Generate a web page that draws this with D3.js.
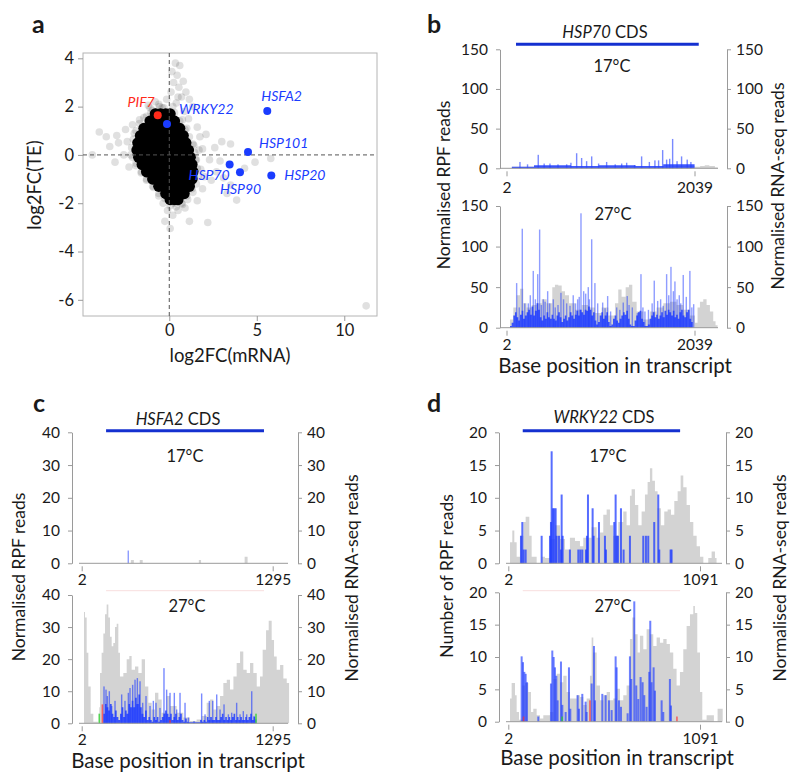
<!DOCTYPE html>
<html><head><meta charset="utf-8">
<script src="https://cdn.jsdelivr.net/npm/d3@7"></script>
<style>body{margin:0;background:#fff} text{font-family:Lato,'Open Sans',sans-serif;fill:#1a1a1a}</style>
</head><body><script>
// ---------------- DATA ----------------
// Panel a: scatter log2FC(mRNA) vs log2FC(TE)
const coreRowY = [1.7,1.4,1.1,0.8,0.5,0.2,-0.1,-0.4,-0.7,-1.0,-1.3,-1.6,-1.85];
const coreRowX = [
  [-0.8,-0.5,-0.2,0.05],
  [-1.1,-0.8,-0.5,-0.2,0.1,0.3],
  [-1.45,-1.15,-0.85,-0.55,-0.25,0.05,0.35,0.6],
  [-1.65,-1.35,-1.05,-0.75,-0.45,-0.15,0.15,0.45,0.8],
  [-1.8,-1.5,-1.2,-0.9,-0.6,-0.3,0,0.3,0.6,0.95],
  [-1.85,-1.55,-1.25,-0.95,-0.65,-0.35,-0.05,0.25,0.55,0.85,1.1],
  [-1.75,-1.45,-1.15,-0.85,-0.55,-0.25,0.05,0.35,0.65,0.95,1.2],
  [-1.55,-1.25,-0.95,-0.65,-0.35,-0.05,0.25,0.55,0.85,1.1,1.3],
  [-1.3,-1.0,-0.7,-0.4,-0.1,0.2,0.5,0.8,1.1,1.35],
  [-0.95,-0.65,-0.35,-0.05,0.25,0.55,0.85,1.1,1.3],
  [-0.6,-0.3,0,0.3,0.6,0.9,1.15],
  [-0.2,0.1,0.4,0.65,0.85],
  [0.05,0.3,0.5]
];
const haloX = [0.35,0.6,0.15,0.45,0.8,0.25,0.55,0.95,0.1,0.7,1.15,-0.15,0.4,1.35,-0.55,-0.95,-1.3,-1.7,-2.1,-2.5,-3.0,-3.6,-4.0,-4.4,-3.4,-2.9,-2.4,-2.0,-2.2,-1.9,-1.6,-1.3,-0.9,-0.6,-0.35,-0.1,0.2,0.5,-0.25,0.05,0.9,1.15,1.6,2.2,1.9,2.4,2.7,3.1,3.5,3.85,3.3,2.3,1.9,1.75,1.6,2.1,2.6,3.0,3.5,4.9,5.8,4.3,1.8,1.1,0.85,2.0,-1.2,-0.8,-2.6,-1.5,1.4,2.9,0.7,-0.4,1.3,11.25,-3.1,-2.3,-1.0,0.75,1.0,-1.9,-1.4,-0.4,1.0,0.3,1.5,1.7,-0.7,0.5,
  -1.1,-0.3,0.3,0.6,0.9,1.15,1.35,1.45,1.55,1.6,1.65,1.55,1.35,1.05,0.75,0.4,0.05,-0.25,-0.6,-0.95,-1.3,-1.6,-1.9,-2.1,-2.15,-2.05,-1.9,-1.7,-1.45,-1.05,0.2,-0.6];
const haloY = [3.8,3.7,3.45,3.3,3.05,3.0,2.8,2.6,2.6,2.4,2.3,2.3,2.15,2.0,2.0,1.85,1.6,1.45,1.25,1.05,0.8,0.75,0.95,0.0,0.35,0.5,0.55,0.9,0.0,-0.35,-0.7,-1.0,-1.35,-1.7,-2.0,-2.3,-2.5,-2.3,-2.75,-3.05,-2.2,-2.75,-1.9,-2.8,-1.4,-1.05,-0.7,-0.95,-1.25,-1.87,-1.6,-0.2,0.25,0.75,1.15,0.85,0.3,0.55,0.45,-0.3,-0.15,-0.55,-0.6,1.5,1.8,-0.9,2.05,2.2,0.0,0.95,0.4,-0.25,-2.0,1.95,-1.4,-6.25,-0.3,-0.5,1.5,1.45,1.1,0.2,-0.3,-1.5,-1.7,-2.0,-0.2,0.2,1.8,2.4,
  1.95,1.95,1.75,1.4,1.05,0.75,0.45,0.1,-0.2,-0.55,-0.9,-1.2,-1.55,-1.85,-2.05,-2.15,-2.1,-1.8,-1.6,-1.3,-1.05,-0.75,-0.45,-0.1,0.3,0.65,1.0,1.3,1.55,1.75,2.0,2.1];
const geneNames = ["PIF7","WRKY22","HSFA2","HSP101","HSP70","HSP90","HSP20"];
const geneX = [-0.66,-0.13,5.6,4.5,3.45,4.04,5.83];
const geneY = [1.64,1.28,1.82,0.12,-0.40,-0.72,-0.85];
const geneGroup = ["red","blue","blue","blue","blue","blue","blue"];
const aXTicks = [0,5,10];
const aYTicks = [-6,-4,-2,0,2,4];

// Panel b: HSP70 (transcript, 2..2039)
const bEnd = 2039, bCds = [105, 2085], bTicks = [0,50,100,150];
const bTopGrayPos = [20,60,300,700,1000,1400,1800,2040,2100,2150,2200,2260,2290];
const bTopGrayVal = [0,2,3,2,3,2,3,2,3,4,3,1,0];
const bTopFloorPos = [60,300,700,1000,1400,1700,2040];
const bTopFloorVal = [2,4,3,4,3,5,0];
const bTopBluePos = [148,346,473,654,762,816,925,1087,1304,1466,1610,1694,1737,1802,1899,1960,2000,230,410,560,700,870,1000,1180,1250,1390,1550,1650,1770,1850];
const bTopBlueVal = [8,17,6,5,19,13,15,8,7,15,10,23,11,37,15,11,8,5,6,5,7,9,6,5,6,4,8,10,12,9];
const bBotGrayPos = [22,40,76,112,148,184,220,275,329,383,437,498,527,563,600,636,679,744,816,888,960,1033,1105,1177,1213,1249,1293,1329,1365,1412,1484,1556,1628,1701,1773,1845,1917,1989,2044,2072,2098,2134,2170,2206,2242,2267,2289];
const bBotGrayVal = [0,10,25,40,48,30,25,28,30,35,30,50,53,52,45,40,30,22,28,25,18,25,15,30,47,38,50,53,32,20,10,20,25,30,32,28,22,15,6,25,32,35,28,20,8,3,0];
// dense RPF envelope, bins of 18 nt starting at 40
const bBotFloorStart = 40, bBotFloorBin = 18;
const bBotFloorVal = [2,6,15,19,13,9,16,21,11,15,19,22,16,26,15,21,30,22,13,9,15,11,19,13,11,16,11,9,15,19,13,7,11,15,9,13,19,15,11,16,21,15,22,19,16,22,21,26,22,15,19,9,4,7,15,19,11,15,19,7,2,4,11,15,9,6,11,15,19,16,21,11,4,2,2,9,15,19,21,11,7,2,2,4,11,15,19,13,16,11,15,19,13,21,16,22,19,15,21,13,16,11,19,22,15,13,19,22,11,7,0];
const bBotBluePos = [112,173,238,292,340,361,401,448,509,592,654,725,773,809,838,888,925,960,1044,1098,1196,1267,1310,1365,1459,1502,1603,1672,1737,1784,1827,1874,1917,1989,2030,
  140,200,260,315,380,420,470,530,560,620,690,750,790,860,900,990,1070,1130,1230,1330,1420,1480,1540,1580,1640,1700,1760,1810,1850,1890,1950,2010];
const bBotBlueVal = [55,122,30,70,66,121,35,45,35,43,30,40,35,141,45,50,109,55,31,39,25,31,39,25,66,20,58,35,66,75,57,40,65,70,29,
  25,30,40,35,28,32,30,25,28,35,27,30,38,42,35,30,24,20,22,28,18,25,22,30,33,27,40,45,35,30,38,25];

// Panel c: HSFA2 (2..1295)
const cEnd = 1295, cCds = [167, 1236], cTicks = [0,10,20,30,40];
const cTopGrayPos = [330,335,350,355,390,395,410,415,790,795,805,810,1100,1105,1120,1125];
const cTopGrayVal = [0,1,1,0,0,1,1,0,0,1,1,0,0,2,2,0];
const cTopBluePos = [317];
const cTopBlueVal = [3.9];
const cBotGrayPos = [-9.5,17.6,24.4,35.7,47,62.7,80.8,114.6,121.4,126,137,148.5,159.8,171,182.4,193.6,205,216,227.5,238.8,250,261,284,306.5,324.5,340,363,385.5,408,430.6,453,475.8,498.4,521,543.5,577,600,645,690,735,780,814,848,871,893,916,938.5,961,984,1006,1029,1051,1074,1096,1119,1141.6,1164,1187,1209,1227,1250,1268,1288,1304,1322,1345,1367,1390,1406];
const cBotGrayVal = [0,34.7,33,22,11.5,3,0.5,0,5,15.7,22,28,34,37,33,27,24,25,30,31,22,14.6,15.7,20,21,16.7,17.7,15.7,20,11.5,6.4,4.3,9.5,7.4,3.3,8.5,5.4,3.3,1.8,0.7,1.2,2.3,6.4,7.4,4.3,5.4,8.5,12.6,13.6,10.5,14.6,18.8,22.4,16.7,15.7,18.8,15.7,11.5,14.6,22.9,29,32,26,20.8,16.7,18.2,14,12.6,0];
// dense RPF envelope, bins of 11.3 nt starting at 148.5
const cBotFloorStart = 148.5, cBotFloorBin = 11.3;
const cBotFloorVal = [3,6,5,4,6,3,2,4,2,1,3,5,2,4,3,6,5,7,5,8,6,9,5,3,2,4,1,2,1,0.5,2,1,2,0.5,1,2,3,4,3,2,3,1,2,3,1,2,3,1,0.5,1.5,0.5,0.3,0.3,0.3,0.3,0.3,0.3,0.3,1,0.5,1,0.5,2,1,2,1,1,2,1,1,2,3,1,2,1,2,1,2,3,1,2,1,2,1,1,2,1,2,3,1,2,0];
const cBotBluePos = [153,166.6,175.6,189,205,227.5,272.6,295,317.8,329,347,363,378.7,396.8,414.8,437.4,464.5,487,505,532,559,577,600,629,645,667.6,701.5,724,762.4,814,837,866,889,916,938.5,965.5,995,1017.5,1051,1074,1096,1119,1153,1169,1180];
const cBotBlueVal = [11.5,10.5,8.5,10,5.4,7,9,7,9.5,11,12,13.6,14.1,13.1,6.4,8.5,5.4,7,6.4,4.8,17.2,10.5,9.5,9.5,4.3,9.5,6.4,1.8,0.7,9.3,2.8,7,7,9,4.3,5.9,2.8,3.3,6.4,2.8,3.8,2.8,10,2.3,1.2];
const cBotRedPos = [142,600], cBotRedVal = [5.9,1];
const cBotGreenPos = [121,1182], cBotGreenVal = [3,3];

// Panel d: WRKY22 (2..1091)
const dEnd = 1091, dCds = [84, 978], dTicks = [0,5,10,15,20];
const dTopGrayPos = [2,11.6,24.8,36.2,49.4,68.4,87.3,100.6,112,121.4,134.6,163,191.4,210.4,238.8,267,295.5,324,352,380.7,409,428,456.4,475.4,503.8,522.7,541.6,560.6,579.5,598.4,626.8,655.2,674,693,702.5,721.5,740.4,759.3,778.3,793.4,806.6,820,835,850,869,888,907,926,945,964,981,996,1015,1034,1053,1072,1091,1110,1138,1157,1176,1185];
const dTopGrayVal = [0,3.2,5,3.2,1,4.2,6.3,7.1,7.1,4.2,1,0,1,0.8,3.7,5.8,3.7,2.1,3.9,3.4,2.6,3.9,3.9,5.5,3.9,4.7,7.4,8.2,5.8,4.2,6.3,7.9,5.8,10.3,11.3,8.9,5.8,7.9,10.5,12.4,14.5,12.6,11,8.4,5.8,7.9,8.2,7.4,9.5,11,13.4,11.6,8.9,6.3,4.2,2.6,1,0,0.8,1.8,0.8,0];
const dTopBluePos = [74,81.6,89.2,100.6,191.4,238.8,244.4,248.2,255.8,263.4,271,276.6,290,301.2,305,310.7,352,399.7,411,422.4,443.2,448.9,454.6,481,486.7,517,551,556.8,604,611.7,617.4,625,642,657,693,768.8,784,797,831,854,859.6,924,929.7];
const dTopBlueVal = [4.2,6.3,2.1,2.1,4.2,4.2,6.3,17.1,8.4,8.4,8.4,4.2,4.2,2.1,10.5,4.2,2.1,2.1,2.1,2.1,2.1,4.2,10.5,8.4,4.2,6.3,4.2,2.1,6.3,10.5,4.2,4.2,8.4,2.1,4.2,4.2,4.2,4.2,6.3,10.5,2.1,2.1,2.1];
const dBotGrayPos = [2,11.6,21,30.5,40,49.4,62.7,81.6,96.8,115.7,130.8,144,163,182,200.9,219.8,238.8,257.7,276.6,295.5,314.5,333.4,352.3,371.3,390.2,409,428,447,466,475.4,484.8,503.8,522.7,541.6,560.6,579.5,598.4,617.4,636.3,655.2,674,693,706,721.5,736.6,749.9,768.8,787.7,806.6,825.6,844.5,863.4,882.4,901.3,920,939,958,977,996,1015,1034,1053,1062,1075.5,1091,1104,1128.5,1157,1170,1191,1213.6,1220];
const dBotGrayVal = [0,3.6,6,6,4.1,1.5,0.3,5.6,6,4.6,1.5,2,1,0.5,1,1,1.5,6.6,7.4,6.1,7.1,4.6,3.6,3.6,4.1,3.8,2.6,3.6,7.1,13,10.7,5.6,3.3,4.1,4.6,3.3,3.6,5.1,3.3,4.1,5.6,12.8,16.1,13.5,10.7,13.3,11.2,14.3,13.5,11.7,13,12.2,12.8,12,10.7,8.2,5.6,7.7,11.2,14.8,16.6,17.9,16.8,10.7,4.6,0.3,1,1,0,2,2,0];
const dBotBluePos = [77.8,85.4,93,100.6,108,172.5,244.4,252,259.6,267,274.7,282.3,301.2,308.8,327.7,346.6,354.2,395.9,403.4,422.4,441.3,447,475.4,488.6,494.3,536,554.9,573.8,589,611.7,617.4,630.6,642,679.8,693,700.6,717.7,729,740.4,753.6,765,774.5,787.7,802.9,808.5,816,827.5,835,873,882.4,920,926];
const dBotBlueVal = [10.1,9.2,7.7,7.4,6.1,0.8,5.9,11,10,8.4,7.1,3.3,9.3,2.6,1.5,8.4,2,4.1,2,4.3,3.1,1.5,5.9,11.7,3.3,4.3,4.1,3.3,1.8,10.1,8.4,3.3,2.3,1.3,10.1,6.6,18.6,5.6,3.5,6.9,6.1,4.1,2.3,7.7,15.6,6.1,8.4,4.8,3.3,1.5,6.6,2.5];
const dBotRedPos = [89,466,960], dBotRedVal = [0.8,3.3,0.8];
const dBotGreenPos = [308], dBotGreenVal = [0.8];

// ---------------- DRAW ----------------
const svg = d3.select("body").append("svg").attr("width",800).attr("height",784);
const GRAY = "#d3d3d3", AXC = "#9a9a9a", BLUE = "#1f3cff", CDSC = "#1430d0";
const binned = (start, w, vals) => vals.map((v,i)=>[start + i*w, v]);

function styleAxis(g, fs){
  g.selectAll(".domain").attr("stroke",AXC);
  g.selectAll(".tick line").attr("stroke",AXC);
  g.selectAll(".tick text").attr("font-size",fs).attr("fill","#1a1a1a").style("font-family","Lato,'Open Sans',sans-serif");
}

// Panel a
(function(){
  const g = svg.append("g");
  const x = d3.scaleLinear().domain([-4.93,11.87]).range([83,377]);
  const y = d3.scaleLinear().domain([-6.67,4.22]).range([316,53]);
  g.append("rect").attr("x",83).attr("y",53).attr("width",294).attr("height",263).attr("fill","none").attr("stroke","#b4b4b4");
  const gx = g.append("g").attr("transform","translate(0,316)").call(d3.axisBottom(x).tickValues(aXTicks).tickSize(5).tickPadding(3).tickFormat(d=>String(d)));
  gx.select(".domain").remove(); styleAxis(gx,16.5);
  const gy = g.append("g").attr("transform","translate(83,0)").call(d3.axisLeft(y).tickValues(aYTicks).tickSize(5).tickPadding(4).tickFormat(d=>String(d)));
  gy.select(".domain").remove(); styleAxis(gy,16.5);
  g.append("g").selectAll("circle").data(d3.zip(haloX,haloY)).join("circle")
    .attr("cx",d=>x(d[0])).attr("cy",d=>y(d[1])).attr("r",3.8).attr("fill","#000").attr("fill-opacity",0.12);
  const core = coreRowY.flatMap((yy,i)=>coreRowX[i].map(xx=>[xx,yy]));
  g.append("g").selectAll("circle").data(core).join("circle")
    .attr("cx",d=>x(d[0])).attr("cy",d=>y(d[1])).attr("r",5.6).attr("fill","#000");
  g.append("line").attr("x1",x(0)).attr("x2",x(0)).attr("y1",53).attr("y2",316).attr("stroke","#555").attr("stroke-dasharray","4,3");
  g.append("line").attr("x1",83).attr("x2",377).attr("y1",y(0)).attr("y2",y(0)).attr("stroke","#555").attr("stroke-dasharray","4,3");
  const genes = geneNames.map((n,i)=>({n, x:geneX[i], y:geneY[i], c:geneGroup[i]==="red"?"#ff2a1a":"#1a3cff"}));
  g.selectAll(".gp").data(genes).join("circle").attr("cx",d=>x(d.x)).attr("cy",d=>y(d.y)).attr("r",4).attr("fill",d=>d.c);
  const lab = {PIF7:[-3,-8,"end"],WRKY22:[12,-10,"start"],HSFA2:[-6,-10,"start"],HSP101:[11,-4,"start"],HSP70:[0,15,"end"],HSP90:[-20,22,"start"],HSP20:[13,5,"start"]};
  g.selectAll(".gl").data(genes).join("text").attr("x",d=>x(d.x)+lab[d.n][0]).attr("y",d=>y(d.y)+lab[d.n][1])
    .attr("text-anchor",d=>lab[d.n][2]).attr("font-size",14).attr("font-style","italic").style("fill",d=>d.c).text(d=>d.n);
  g.append("text").attr("x",230).attr("y",362).attr("text-anchor","middle").attr("font-size",18.5).text("log2FC(mRNA)");
  g.append("text").attr("transform","translate(41,185) rotate(-90)").attr("text-anchor","middle").attr("font-size",18.5).text("log2FC(TE)");
  g.append("text").attr("x",32).attr("y",33).attr("font-size",25).attr("font-weight","bold").text("a");
})();

function track(o){
  const g = svg.append("g");
  const x = d3.scaleLinear().domain([2,o.end]).range([o.x2,o.xe]);
  const y = d3.scaleLinear().domain([0,o.max]).range([o.y0,o.ym]);
  const areaS = d3.area().curve(d3.curveStepAfter).x(d=>x(d[0])).y0(y(0)).y1(d=>y(d[1]));
  g.append("path").datum(d3.zip(o.gp,o.gv)).attr("d",areaS).attr("fill",GRAY);
  if(o.floor) g.append("path").datum(o.floor).attr("d",areaS).attr("fill",BLUE).attr("fill-opacity",0.85);
  const bw = o.bw||1.6;
  g.append("g").selectAll("rect").data(d3.zip(o.bp,o.bv)).join("rect")
    .attr("x",d=>x(d[0])-bw/2).attr("width",bw).attr("y",d=>y(d[1])).attr("height",d=>y(0)-y(d[1]))
    .attr("fill",BLUE).attr("fill-opacity",o.bo||0.6);
  if(o.rp) g.append("g").selectAll("rect").data(d3.zip(o.rp,o.rv)).join("rect")
    .attr("x",d=>x(d[0])-0.8).attr("width",1.6).attr("y",d=>y(d[1])).attr("height",d=>y(0)-y(d[1])).attr("fill","#ff3030").attr("fill-opacity",0.7);
  if(o.gnp) g.append("g").selectAll("rect").data(d3.zip(o.gnp,o.gnv)).join("rect")
    .attr("x",d=>x(d[0])-0.8).attr("width",1.6).attr("y",d=>y(d[1])).attr("height",d=>y(0)-y(d[1])).attr("fill","#30d030").attr("fill-opacity",0.8);
  g.append("line").attr("x1",o.bx0).attr("x2",o.bx1).attr("y1",y(0)).attr("y2",y(0)).attr("stroke",AXC);
  const gx = g.append("g").attr("transform",`translate(0,${y(0)+3})`)
    .call(d3.axisBottom(x).tickValues([2,o.end]).tickSize(5).tickSizeOuter(0).tickPadding(o.xpad||3).tickFormat(d=>String(d)));
  gx.select(".domain").remove(); styleAxis(gx,15.5);
  const gl = g.append("g").attr("transform",`translate(${o.L},0)`).call(d3.axisLeft(y).tickValues(o.ticks).tickSize(4).tickSizeOuter(0).tickPadding(8));
  styleAxis(gl,15.5);
  const gr = g.append("g").attr("transform",`translate(${o.R},0)`).call(d3.axisRight(y).tickValues(o.ticks).tickSize(4).tickSizeOuter(0).tickPadding(5));
  styleAxis(gr,15.5);
  g.append("text").attr("x",o.tx).attr("y",o.ty).attr("text-anchor","middle").attr("font-size",16.5).text(o.temp);
  if(o.cds){
    g.append("line").attr("x1",x(o.cds[0])).attr("x2",x(o.cds[1])).attr("y1",o.cdsY).attr("y2",o.cdsY)
      .attr("stroke",o.cdsColor).attr("stroke-width",o.cdsW);
  }
}

// b
track({end:bEnd,x2:506.5,xe:694.5,bx0:500,bx1:718,L:500,R:727,y0:168.3,ym:49.3,max:150,ticks:bTicks,
  gp:bTopGrayPos,gv:bTopGrayVal,floor:d3.zip(bTopFloorPos,bTopFloorVal),bp:bTopBluePos,bv:bTopBlueVal,bw:1.4,
  temp:"17°C",tx:612,ty:72,cds:bCds,cdsY:44.3,cdsColor:CDSC,cdsW:3,xpad:6});
track({end:bEnd,x2:506.5,xe:694.5,bx0:500,bx1:718,L:500,R:727,y0:327.7,ym:206,max:150,ticks:bTicks,
  gp:bBotGrayPos,gv:bBotGrayVal,floor:binned(bBotFloorStart,bBotFloorBin,bBotFloorVal),bp:bBotBluePos,bv:bBotBlueVal,bw:1.4,bo:0.5,
  temp:"27°C",tx:613,ty:220});
// c
track({end:cEnd,x2:81.7,xe:272.7,bx0:79,bx1:288,L:72,R:298,y0:563.3,ym:432.3,max:40,ticks:cTicks,
  gp:cTopGrayPos,gv:cTopGrayVal,bp:cTopBluePos,bv:cTopBlueVal,bw:1.2,
  temp:"17°C",tx:185,ty:462,cds:cCds,cdsY:430.7,cdsColor:CDSC,cdsW:3});
track({end:cEnd,x2:81.7,xe:272.7,bx0:79,bx1:288,L:72,R:298,y0:723.3,ym:595,max:40,ticks:cTicks,
  gp:cBotGrayPos,gv:cBotGrayVal,floor:binned(cBotFloorStart,cBotFloorBin,cBotFloorVal),bp:cBotBluePos,bv:cBotBlueVal,bw:1.4,
  rp:cBotRedPos,rv:cBotRedVal,gnp:cBotGreenPos,gnv:cBotGreenVal,
  temp:"27°C",tx:187,ty:612,cds:cCds,cdsY:590.7,cdsColor:"#f8dede",cdsW:1});
// d
track({end:dEnd,x2:508.3,xe:700,bx0:506,bx1:722,L:499,R:726,y0:563.3,ym:432.3,max:20,ticks:dTicks,
  gp:dTopGrayPos,gv:dTopGrayVal,bp:dTopBluePos,bv:dTopBlueVal,bw:2,bo:0.75,
  temp:"17°C",tx:608,ty:462,cds:dCds,cdsY:430.7,cdsColor:CDSC,cdsW:3});
track({end:dEnd,x2:508.3,xe:700,bx0:506,bx1:722,L:499,R:726,y0:721.7,ym:592.3,max:20,ticks:dTicks,
  gp:dBotGrayPos,gv:dBotGrayVal,bp:dBotBluePos,bv:dBotBlueVal,bw:2,bo:0.65,
  rp:dBotRedPos,rv:dBotRedVal,gnp:dBotGreenPos,gnv:dBotGreenVal,
  temp:"27°C",tx:613,ty:612,cds:dCds,cdsY:590.7,cdsColor:"#f8dede",cdsW:1});

function cdsTitle(cx,cy,gene){
  const t = svg.append("text").attr("x",cx).attr("y",cy).attr("text-anchor","middle").attr("font-size",16.5);
  t.append("tspan").attr("font-style","italic").text(gene);
  t.append("tspan").text(" CDS");
}
cdsTitle(605,38,"HSP70"); cdsTitle(178,425,"HSFA2"); cdsTitle(604,423,"WRKY22");
function vtitle(x,y,s){ svg.append("text").attr("transform",`translate(${x},${y}) rotate(-90)`).attr("text-anchor","middle").attr("font-size",17.5).text(s); }
vtitle(450,185,"Normalised RPF reads"); vtitle(784,186,"Normalised RNA-seq reads");
vtitle(25,577,"Normalised RPF reads"); vtitle(358,578,"Normalised RNA-seq reads");
vtitle(453,576,"Number of RPF reads"); vtitle(786,578,"Normalised RNA-seq reads");
function xtitle(x,y){ svg.append("text").attr("x",x).attr("y",y).attr("text-anchor","middle").attr("font-size",20.5).text("Base position in transcript"); }
xtitle(615,373); xtitle(188,768); xtitle(617,765);
[["b",427,33],["c",33,412],["d",427,412]].forEach(([s,x,y])=>svg.append("text").attr("x",x).attr("y",y).attr("font-size",25).attr("font-weight","bold").text(s));
</script></body></html>
